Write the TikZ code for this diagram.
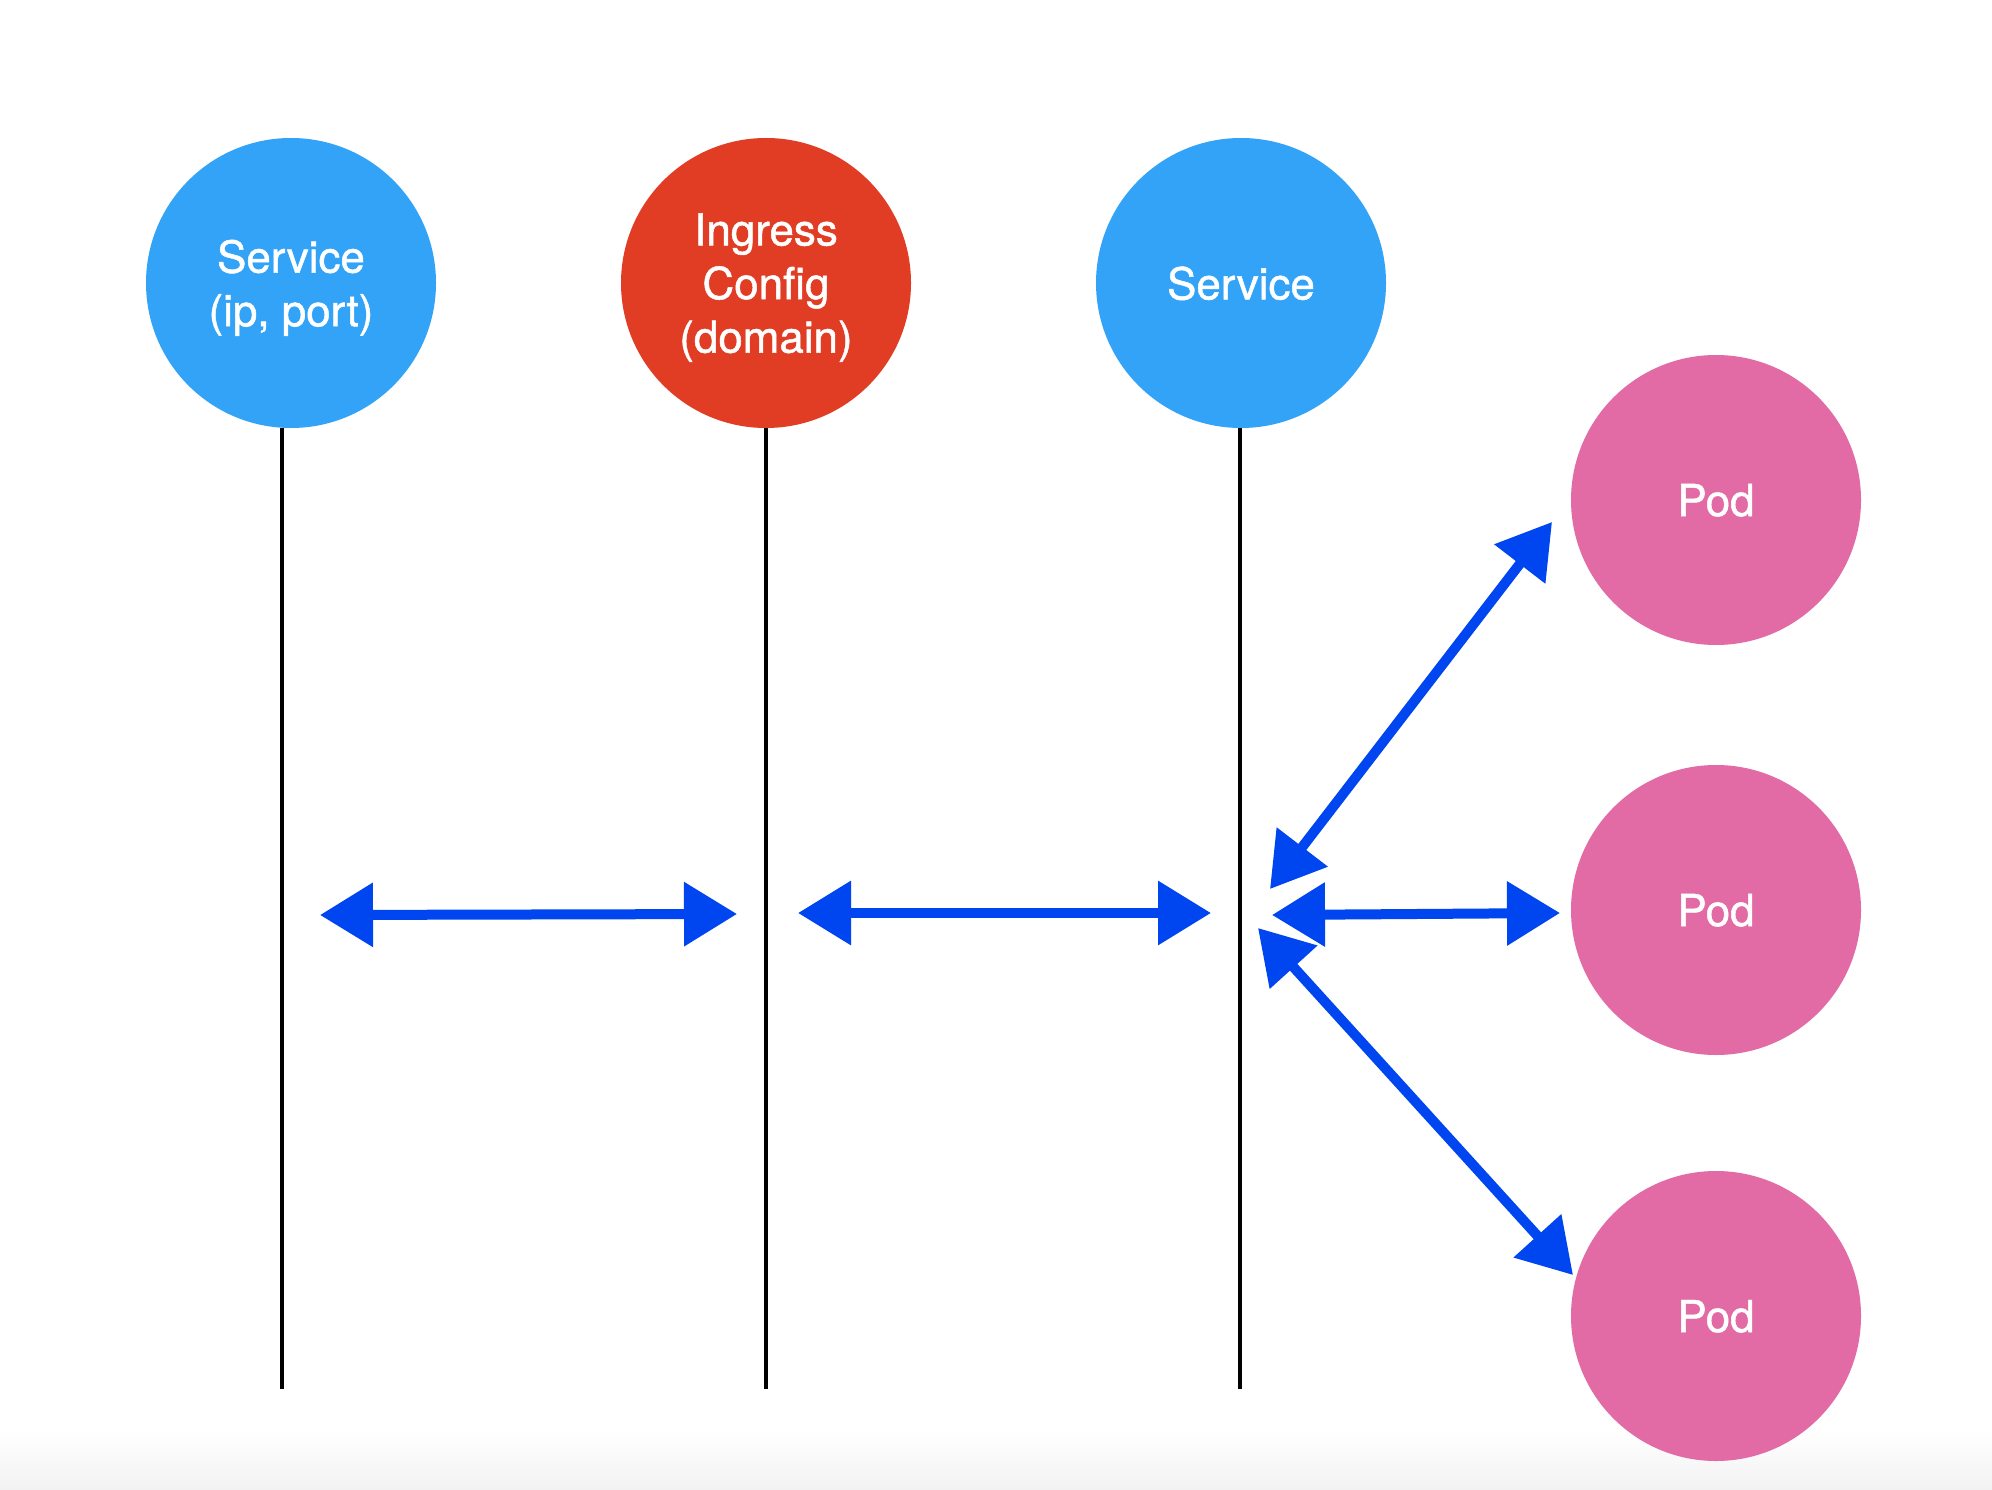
\documentclass[tikz,border=0pt]{standalone}
\usepackage{fontspec}
\setmainfont{TeX Gyre Heros}
\newfontfamily\ballfont{TeX Gyre Heros}[FakeBold=1.1]
\usetikzlibrary{arrows.meta}
\definecolor{svcblue}{RGB}{51,163,247}
\definecolor{ingred}{RGB}{224,61,36}
\definecolor{podpink}{RGB}{226,107,165}
\definecolor{linkblue}{RGB}{0,70,240}
\begin{document}
\begin{tikzpicture}[
    ball/.style={circle, minimum size=5.8cm, inner sep=0pt, text=white, align=center,
      text depth=0pt, font=\ballfont\fontsize{25}{30.5}\selectfont},
    life/.style={line width=2.2pt},
    link/.style={linkblue, line width=0.2cm,
      {Triangle[length=1.06cm, width=1.24cm]}-{Triangle[length=1.06cm, width=1.24cm]}}
  ]
  \fill[white] (0,0) rectangle (39.84,-29.8);
  \shade[top color=white, bottom color=black!5] (0,-28.6) rectangle (39.84,-29.8);
  \useasboundingbox (0,0) rectangle (39.84,-29.8);

  \node[ball, fill=svcblue] (svc1) at (5.82,-5.66) {Service\\(ip, port)};
  \node[ball, fill=ingred] (ing) at (15.32,-5.66) {Ingress\\Config\\(domain)};
  \node[ball, fill=svcblue] (svc2) at (24.82,-5.66) {Service};

  \node[ball, fill=podpink] (pod1) at (34.32,-10.0) {Pod};
  \node[ball, fill=podpink] (pod2) at (34.32,-18.2) {Pod};
  \node[ball, fill=podpink] (pod3) at (34.32,-26.32) {Pod};

  % lifelines hanging below the three top circles
  \draw[life] ([xshift=-0.18cm]svc1.south) -- ++(0,-19.22);
  \draw[life] (ing.south) -- ++(0,-19.22);
  \draw[life] ([xshift=-0.02cm]svc2.south) -- ++(0,-19.22);

  \coordinate (a1l) at (6.40,-18.30);
  \coordinate (a1r) at (14.74,-18.28);
  \coordinate (a2l) at (15.96,-18.26);
  \coordinate (a2r) at (24.22,-18.26);
  \coordinate (a3l) at (25.44,-18.30);
  \coordinate (a3r) at (31.20,-18.26);
  \coordinate (a4l) at (25.40,-17.78);
  \coordinate (a4r) at (31.04,-10.44);
  \coordinate (a5l) at (25.16,-18.56);
  \coordinate (a5r) at (31.46,-25.50);

  \draw[link] (a1l) -- (a1r);
  \draw[link] (a2l) -- (a2r);
  \draw[link] (a3l) -- (a3r);
  \draw[link] (a4l) -- (a4r);
  \draw[link] (a5l) -- (a5r);
\end{tikzpicture}
\end{document}
